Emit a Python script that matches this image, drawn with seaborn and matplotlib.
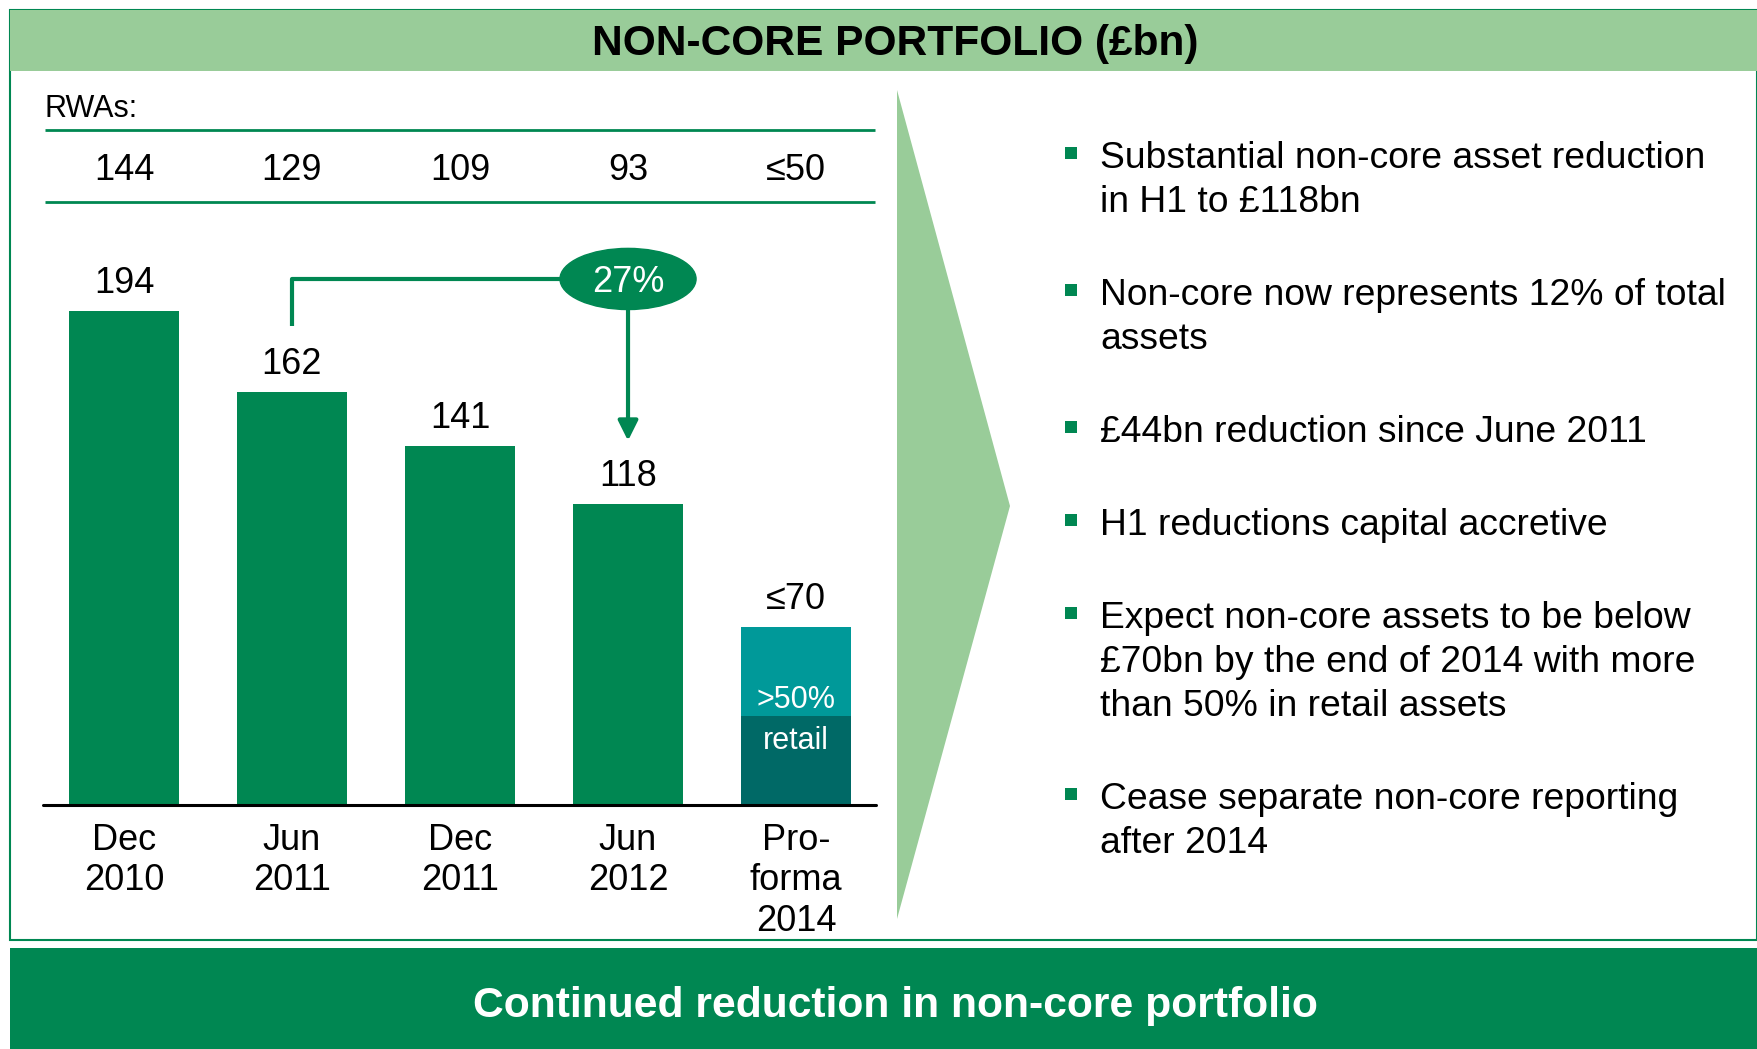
import matplotlib
matplotlib.use("Agg")
import matplotlib.pyplot as plt
import seaborn as sns
import pandas as pd
from matplotlib import transforms
from matplotlib.patches import Rectangle, Ellipse, Polygon

# chart data
periods = ["Dec\n2010", "Jun\n2011", "Dec\n2011", "Jun\n2012", "Pro-\nforma\n2014"]
portfolio = [194, 162, 141, 118, 70]
portfolio_labels = ["194", "162", "141", "118", "≤70"]
retail_share = [None, None, None, None, 35]
rwa_labels = ["144", "129", "109", "93", "≤50"]
reduction_label = "27%"

bullets = [
    ["Substantial non-core asset reduction", "in H1 to £118bn"],
    ["Non-core now represents 12% of total", "assets"],
    ["£44bn reduction since June 2011"],
    ["H1 reductions capital accretive"],
    ["Expect non-core assets to be below", "£70bn by the end of 2014 with more",
     "than 50% in retail assets"],
    ["Cease separate non-core reporting", "after 2014"],
]

GREEN = "#008752"
LIGHT = "#99CC99"
TEAL = "#009999"
DARK_TEAL = "#006966"

sns.set_style("white")
plt.rcParams["font.family"] = ["Liberation Sans", "DejaVu Sans"]
plt.rcParams["text.color"] = "black"
plt.rcParams["xtick.color"] = "black"

W, H = 1758, 1049
fig = plt.figure(figsize=(W / 100, H / 100), dpi=100)

# background layer, pixel coordinates
bg = fig.add_axes([0, 0, 1, 1], zorder=0)
bg.set_xlim(0, W)
bg.set_ylim(H, 0)
bg.axis("off")

bg.add_patch(Rectangle((10, 10), W - 11, 930, fill=False, edgecolor=GREEN, lw=1.5))
bg.add_patch(Rectangle((10, 10), W - 10, 61, color=LIGHT, lw=0))
bg.text(895, 55, "NON-CORE PORTFOLIO (£bn)", ha="center", va="baseline",
        fontsize=30.6, fontweight="bold")
bg.add_patch(Rectangle((10, 948), W - 10, H - 948, color=GREEN, lw=0))
bg.text(895, 1017, "Continued reduction in non-core portfolio", ha="center",
        va="baseline", fontsize=30.7, fontweight="bold", color="white")
bg.add_patch(Polygon([(897, 90), (1010, 506), (897, 919)], closed=True, color=LIGHT, lw=0))

bg.text(45, 117, "RWAs:", fontsize=22, va="baseline")
bg.hlines([130, 202], 45, 875, color=GREEN, lw=2)

# bullets on the right
y = 168
for lines in bullets:
    bg.plot(1071, y - 15.5, marker="s", ms=8, mew=0, color=GREEN)
    for k, line in enumerate(lines):
        bg.text(1100, y + 44 * k, line, fontsize=26.8, va="baseline")
    y += 44 * len(lines) + 49

# bar chart
ax = fig.add_axes([43 / W, 1 - 805 / H, 833 / W, 591 / H], zorder=1)
ax.patch.set_alpha(0)

df = pd.DataFrame({"period": periods, "value": portfolio})
sns.barplot(data=df, x="period", y="value", hue="period",
            palette=[GREEN] * 4 + [TEAL], width=0.66, saturation=1,
            linewidth=0, legend=False, ax=ax)
rdf = pd.DataFrame({"period": periods, "value": retail_share}).dropna()
sns.barplot(data=rdf, x="period", y="value", order=periods, color=DARK_TEAL,
            width=0.66, saturation=1, linewidth=0, ax=ax)

for i, (v, lab) in enumerate(zip(portfolio, portfolio_labels)):
    ax.annotate(lab, (i, v), xytext=(0, 13), textcoords="offset points",
                ha="center", va="baseline", fontsize=26)

r = retail_share[4]
ax.annotate(">50%", (4, r), xytext=(0, 6), textcoords="offset points",
            ha="center", va="baseline", fontsize=22, color="white")
ax.annotate("retail", (4, r), xytext=(0, -24), textcoords="offset points",
            ha="center", va="baseline", fontsize=22, color="white")

# RWA row, aligned with bar centres
tr = transforms.blended_transform_factory(ax.transData, bg.transData)
for i, lab in enumerate(rwa_labels):
    ax.text(i, 180, lab, transform=tr, ha="center", va="baseline", fontsize=26)

# 27% reduction bracket
top_y = portfolio[0] + 12.5
start_y = portfolio[1] + 26
tip_y = portfolio[3] + 25
ax.plot([1, 1, 2.6], [start_y, top_y, top_y], color=GREEN, lw=3,
        solid_capstyle="butt", clip_on=False)
ax.add_patch(Ellipse((3, top_y), 0.81, 24, color=GREEN, clip_on=False, zorder=3))
ax.annotate(reduction_label, (3, top_y), xytext=(0, -9.5), textcoords="offset points",
            ha="center", va="baseline", fontsize=26, color="white", zorder=4)
ax.annotate("", xy=(3, tip_y), xytext=(3, top_y - 12),
            arrowprops=dict(arrowstyle="-|>,head_length=0.6,head_width=0.3",
                            color=GREEN, lw=3, shrinkA=0, shrinkB=0, mutation_scale=20))

ax.set_xlabel("")
ax.set_ylabel("")
ax.set_yticks([])
ax.tick_params(axis="x", length=0, pad=13, labelsize=26)
plt.setp(ax.get_xticklabels(), linespacing=1.2)
sns.despine(ax=ax, left=True, bottom=True)
ax.axhline(0, color="black", lw=2.2, clip_on=False)
ax.set_xlim(-0.482, 4.476)
ax.set_ylim(0, 232)

fig.savefig("out.png", dpi=100)
